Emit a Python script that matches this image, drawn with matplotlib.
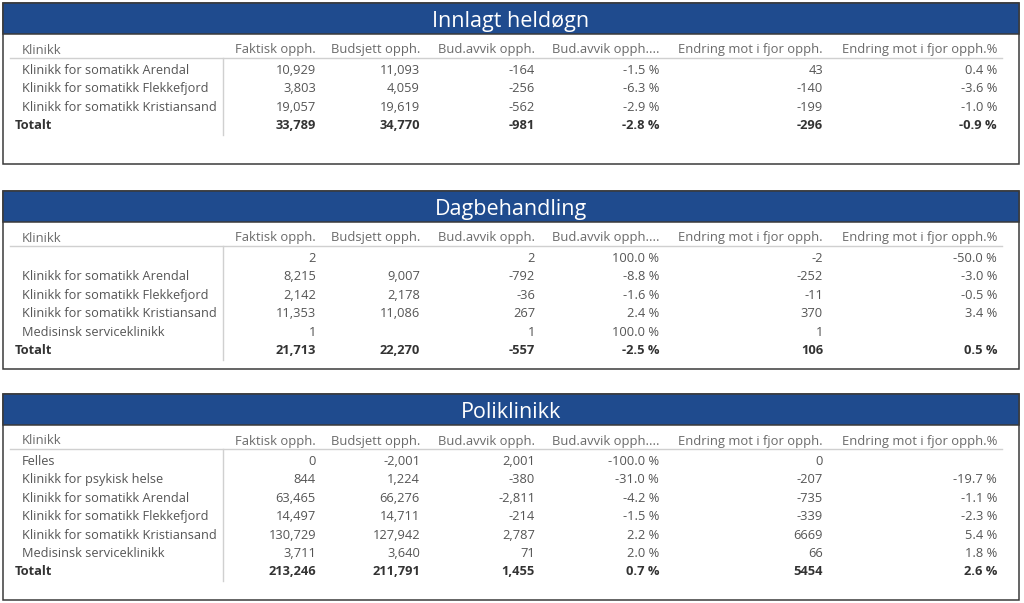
import matplotlib
matplotlib.use("Agg")
import matplotlib.pyplot as plt
from matplotlib.patches import Rectangle

plt.rcParams["font.family"] = ["Open Sans", "DejaVu Sans"]

# ── data ────────────────────────────────────────────────────────────────────
columns = ["Klinikk", "Faktisk opph.", "Budsjett opph.", "Bud.avvik opph.",
           "Bud.avvik opph....", "Endring mot i fjor opph.",
           "Endring mot i fjor opph.%"]

inn_names = ["Klinikk for somatikk Arendal", "Klinikk for somatikk Flekkefjord",
             "Klinikk for somatikk Kristiansand"]
inn_faktisk = [10929, 3803, 19057]
inn_budsjett = [11093, 4059, 19619]
inn_avvik = [-164, -256, -562]
inn_avvik_pct = [-1.5, -6.3, -2.9]
inn_endring = [43, -140, -199]
inn_endring_pct = [0.4, -3.6, -1.0]
inn_total = [33789, 34770, -981, -2.8, -296, -0.9]

dag_names = ["", "Klinikk for somatikk Arendal", "Klinikk for somatikk Flekkefjord",
             "Klinikk for somatikk Kristiansand", "Medisinsk serviceklinikk"]
dag_faktisk = [2, 8215, 2142, 11353, 1]
dag_budsjett = [None, 9007, 2178, 11086, None]
dag_avvik = [2, -792, -36, 267, 1]
dag_avvik_pct = [100.0, -8.8, -1.6, 2.4, 100.0]
dag_endring = [-2, -252, -11, 370, 1]
dag_endring_pct = [-50.0, -3.0, -0.5, 3.4, None]
dag_total = [21713, 22270, -557, -2.5, 106, 0.5]

pol_names = ["Felles", "Klinikk for psykisk helse", "Klinikk for somatikk Arendal",
             "Klinikk for somatikk Flekkefjord", "Klinikk for somatikk Kristiansand",
             "Medisinsk serviceklinikk"]
pol_faktisk = [0, 844, 63465, 14497, 130729, 3711]
pol_budsjett = [-2001, 1224, 66276, 14711, 127942, 3640]
pol_avvik = [2001, -380, -2811, -214, 2787, 71]
pol_avvik_pct = [-100.0, -31.0, -4.2, -1.5, 2.2, 2.0]
pol_endring = [0, -207, -735, -339, 6669, 66]
pol_endring_pct = [None, -19.7, -1.1, -2.3, 5.4, 1.8]
pol_total = [213246, 211791, 1455, 0.7, 5454, 2.6]

# ── colours ─────────────────────────────────────────────────────────────────
C_BLUE = "#1f4b8e"
C_BORDER = "#3a3a3a"
C_GRID = "#d0d0d0"
C_HEAD = "#6a6a6a"
C_TEXT = "#555555"
C_BOLD = "#333333"

# right edges of value columns (pixels)
COL_RIGHT = [316, 420, 535, 659, 823, 997]
COL_FMT = ["sep", "sep", "sep", "pct", "int", "pct"]


def fmt(v, kind):
    if v is None:
        return ""
    if kind == "pct":
        return f"{v:.1f} %"
    if kind == "sep":
        return f"{v:,}"
    return f"{v}"


fig = plt.figure(figsize=(10.24, 6.03), dpi=100)
ax = fig.add_axes([0, 0, 1, 1])
ax.set_xlim(0, 1024)
ax.set_ylim(603, 0)
ax.axis("off")


def panel(top, bottom, title, names, cols, total):
    ax.add_patch(Rectangle((3, top), 1016, bottom - top, facecolor="white",
                           edgecolor=C_BORDER, lw=1.1, zorder=1))
    ax.add_patch(Rectangle((3, top), 1016, 31, facecolor=C_BLUE,
                           edgecolor=C_BORDER, lw=1.1, zorder=2))
    ax.text(511, top + 19, title, ha="center", va="center", fontsize=15.5,
            color="white", zorder=3)

    hy = top + 47
    ax.text(22, hy, columns[0], ha="left", va="center", fontsize=9.4,
            color=C_HEAD)
    for j, r in enumerate(COL_RIGHT):
        ax.text(r, hy, columns[j + 1], ha="right", va="center", fontsize=9.4,
                color=C_HEAD)
    uy = top + 55
    ax.plot([10, 1002], [uy, uy], color=C_GRID, lw=1)

    step = 18.4
    y0 = uy + 12.5
    for i, name in enumerate(names):
        y = y0 + i * step
        ax.text(22, y, name, ha="left", va="center", fontsize=9.2, color=C_TEXT)
        for j, r in enumerate(COL_RIGHT):
            ax.text(r, y, fmt(cols[j][i], COL_FMT[j]), ha="right",
                    va="center", fontsize=9.3, color=C_TEXT)
    y = y0 + len(names) * step
    ax.text(15, y, "Totalt", ha="left", va="center", fontsize=9.3,
            color=C_BOLD, fontweight="bold")
    for j, r in enumerate(COL_RIGHT):
        ax.text(r, y, fmt(total[j], COL_FMT[j]), ha="right", va="center",
                fontsize=9.3, color=C_BOLD, fontweight="bold")
    ax.plot([223, 223], [uy, y + 9], color=C_GRID, lw=1)


panel(3, 164, "Innlagt heldøgn", inn_names,
      [inn_faktisk, inn_budsjett, inn_avvik, inn_avvik_pct, inn_endring,
       inn_endring_pct], inn_total)
panel(191, 369, "Dagbehandling", dag_names,
      [dag_faktisk, dag_budsjett, dag_avvik, dag_avvik_pct, dag_endring,
       dag_endring_pct], dag_total)
panel(394, 600, "Poliklinikk", pol_names,
      [pol_faktisk, pol_budsjett, pol_avvik, pol_avvik_pct, pol_endring,
       pol_endring_pct], pol_total)

fig.savefig("out.png", dpi=100, facecolor="white")
plt.close(fig)
